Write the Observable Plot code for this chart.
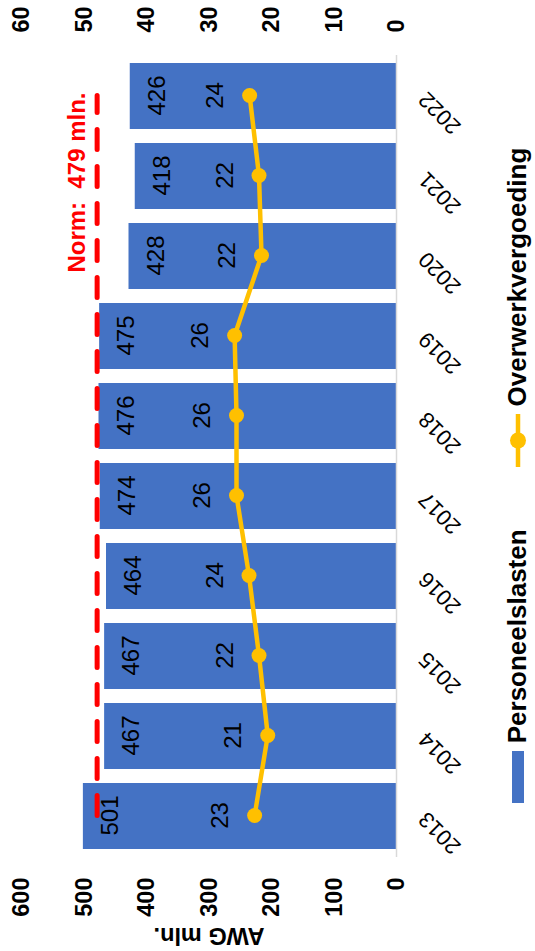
<!DOCTYPE html>
<html>
<head>
<meta charset="utf-8">
<script src="https://cdn.jsdelivr.net/npm/d3@7"></script>
<script src="https://cdn.jsdelivr.net/npm/@observablehq/plot@0.6"></script>
<style>
  html, body { margin: 0; padding: 0; background: #fff; }
  #page { position: relative; width: 535px; height: 951px; overflow: hidden; background: #fff; }
  #chart {
    position: absolute; left: 0; top: 0; width: 951px; height: 535px;
    transform-origin: 0 0; transform: translateY(951px) rotate(-90deg);
    font-family: "Liberation Sans", Arial, sans-serif; background: #fff;
  }
  .legend { display: flex; justify-content: center; align-items: center; gap: 62px; height: 35px;
    font: bold 26px "Liberation Sans", Arial, sans-serif; color: #000; }
  .legend span { display: inline-flex; align-items: center; }
  .legend svg { margin-right: 8px; }
</style>
</head>
<body>
<div id="page"><div id="chart"></div></div>
<script>
const years = ["2013","2014","2015","2016","2017","2018","2019","2020","2021","2022"];
const personeelslasten = [501, 467, 467, 464, 474, 476, 475, 428, 418, 426];
const overwerkvergoeding = [22.7, 20.6, 22.0, 23.6, 25.6, 25.6, 25.9, 21.6, 22.0, 23.5];
const normValue = 479;
const normLabel = "Norm:  479 mln.";
const leftTicks = [0, 100, 200, 300, 400, 500, 600];
const rightTicks = [0, 10, 20, 30, 40, 50, 60];
const seriesNames = ["Personeelslasten", "Overwerkvergoeding"];
const yTitle = "AWG mln.";

const barColor = "#4472C4";
const lineColor = "#FFC000";
const normColor = "#FF0000";
const font = "'Liberation Sans', Arial, sans-serif";

const ratio = leftTicks[leftTicks.length - 1] / rightTicks[rightTicks.length - 1];
const bars = years.map((year, i) => ({year, value: personeelslasten[i]}));
const line = years.map((year, i) => ({year, value: overwerkvergoeding[i]}));
const norm = years.map(year => ({year, value: normValue}));

const plot = Plot.plot({
  width: 951,
  height: 500,
  marginLeft: 94,
  marginRight: 55,
  marginTop: 21,
  marginBottom: 104,
  style: {fontFamily: font, background: "#fff", color: "#000", overflow: "visible"},
  x: {type: "band", domain: years, paddingInner: 0.17, paddingOuter: 0.085, axis: null},
  y: {domain: [leftTicks[0], leftTicks[leftTicks.length - 1]], axis: null},
  marks: [
    Plot.barY(bars, {x: "year", y: "value", fill: barColor}),
    Plot.ruleY([0], {stroke: "#D9D9D9", strokeWidth: 1.5}),
    Plot.line(norm, {x: "year", y: "value", stroke: normColor, strokeWidth: 5, strokeDasharray: "20,17"}),
    Plot.line(line, {x: "year", y: d => d.value * ratio, stroke: lineColor, strokeWidth: 4.5}),
    Plot.dot(line, {x: "year", y: d => d.value * ratio, r: 7.5, fill: lineColor}),
    Plot.text(bars, {x: "year", y: "value", text: d => String(d.value), dy: 27, fontSize: 24, fill: "#000", lineAnchor: "middle"}),
    Plot.text(line, {x: "year", y: d => d.value * ratio, text: d => String(Math.round(d.value)), dy: -34, fontSize: 24, fill: "#000", lineAnchor: "middle"}),
    Plot.text(norm.slice(-1), {x: "year", y: "value", text: () => normLabel, textAnchor: "end", dx: 3, dy: -20, fontSize: 24, fontWeight: "bold", fill: normColor, lineAnchor: "middle"}),
    Plot.axisX({tickRotate: -45, tickSize: 0, tickPadding: 26, fontSize: 22, label: null}),
    Plot.axisY(leftTicks, {anchor: "left", tickSize: 0, tickPadding: 21, fontSize: 23.5, fontWeight: "bold",
      label: yTitle, labelAnchor: "center", labelOffset: 88, labelArrow: "none"}),
    Plot.axisY(rightTicks.map(d => d * ratio), {anchor: "right", tickSize: 0, tickPadding: 22, fontSize: 23.5, fontWeight: "bold",
      tickFormat: d => String(d / ratio), label: null})
  ]
});

const chart = document.getElementById("chart");
chart.appendChild(plot);

const legend = document.createElement("div");
legend.className = "legend";
const item1 = document.createElement("span");
item1.innerHTML = `<svg width="52" height="12"><rect width="52" height="12" fill="${barColor}"/></svg>`;
item1.appendChild(document.createTextNode(seriesNames[0]));
const item2 = document.createElement("span");
item2.innerHTML = `<svg width="53" height="18"><line x1="0" x2="53" y1="9" y2="9" stroke="${lineColor}" stroke-width="4.5"/><circle cx="26.5" cy="9" r="8" fill="${lineColor}"/></svg>`;
item2.appendChild(document.createTextNode(seriesNames[1]));
legend.appendChild(item1);
legend.appendChild(item2);
chart.appendChild(legend);
</script>
</body>
</html>
